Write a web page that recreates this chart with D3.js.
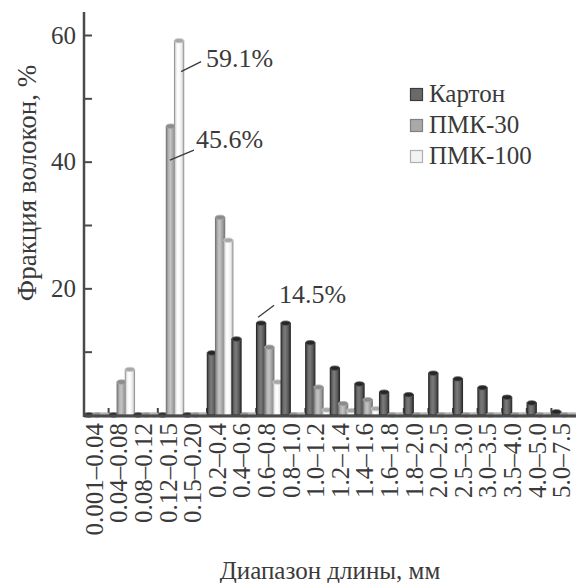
<!DOCTYPE html>
<html lang="ru">
<head>
<meta charset="UTF-8">
<title>Фракция волокон</title>
<script src="https://d3js.org/d3.v7.min.js"></script>
<style>
  body { margin: 0; background: #fff; }
  svg text { font-family: "Liberation Serif", "Times New Roman", Tinos, "DejaVu Serif", serif; fill: #3a3a3a; }
</style>
</head>
<body>
<svg id="chart"></svg>
<script>
// categories (length ranges, mm)
const categories = ['0.001–0.04', '0.04–0.08', '0.08–0.12', '0.12–0.15', '0.15–0.20',
    '0.2–0.4', '0.4–0.6', '0.6–0.8', '0.8–1.0', '1.0–1.2', '1.2–1.4', '1.4–1.6',
    '1.6–1.8', '1.8–2.0', '2.0–2.5', '2.5–3.0', '3.0–3.5', '3.5–4.0', '4.0–5.0', '5.0–7.5'];

const seriesNames = ['Картон', 'ПМК-30', 'ПМК-100'];

const karton = [0, 0, 0, 0, 0, 9.8, 12.0, 14.5, 14.5, 11.4, 7.4, 4.9, 3.6, 3.2, 6.6, 5.7, 4.3, 2.8, 1.9, 0.5];
const pmk30  = [0, 5.2, 0, 45.6, 0, 31.2, 0, 10.7, 0, 4.4, 1.8, 2.4, 0, 0, 0, 0, 0, 0, 0, 0];
const pmk100 = [0, 7.2, 0, 59.1, 0, 27.6, 0, 5.2, 0, 0.8, 0.7, 1.0, 0, 0, 0, 0, 0, 0, 0, 0];

const yTicks = [0, 10, 20, 30, 40, 50, 60];
const yTickLabels = [20, 40, 60];

// callouts: series index, category index, label
const callouts = [
    {s: 2, c: 3, label: '59.1%'},
    {s: 1, c: 3, label: '45.6%'},
    {s: 0, c: 7, label: '14.5%'}
];

const width = 576, height = 583;
const serif = '"Liberation Serif", "Times New Roman", Tinos, "DejaVu Serif", serif';
const svg = d3.select('#chart').attr('width', width).attr('height', height);

const x = d3.scaleBand().domain(categories).range([84, 576]).padding(0);
const y = d3.scaleLinear().domain([0, 60]).range([415, 35]);

const values = [karton, pmk30, pmk100];

// gradients for pseudo-3D cylinders
const defs = svg.append('defs');
const styles = [
    {stops: ['#3a3a3a', '#6c6c6c', '#7a7a7a', '#5c5c5c', '#303030'], stroke: '#2b2b2b', top: '#262626', topRing: '#555', legend: '#6a6a6a', legendStroke: '#3c3c3c'},
    {stops: ['#808080', '#b4b4b4', '#c4c4c4', '#a2a2a2', '#7c7c7c'], stroke: '#777', top: '#8c8c8c', topRing: '#a8a8a8', legend: '#a9a9a9', legendStroke: '#808080'},
    {stops: ['#c4c4c4', '#f6f6f6', '#ffffff', '#ededed', '#b8b8b8'], stroke: '#9a9a9a', top: '#a8a8a8', topRing: '#d0d0d0', legend: '#f2f2f2', legendStroke: '#b0b0b0'}
];
styles.forEach((st, i) => {
    const g = defs.append('linearGradient').attr('id', 'grad' + i)
        .attr('x1', '0%').attr('x2', '100%').attr('y1', '0%').attr('y2', '0%');
    [0, 0.25, 0.45, 0.75, 1].forEach((o, k) => {
        g.append('stop').attr('offset', o).attr('stop-color', st.stops[k]);
    });
});

// floor / baseline
svg.append('rect')
    .attr('x', x.range()[0]).attr('y', y(0) - 2.5)
    .attr('width', x.range()[1] - x.range()[0]).attr('height', 2.5)
    .attr('fill', '#9a9a9a');

// category separators
svg.append('g').selectAll('line')
    .data(categories.slice(1))
    .join('line')
    .attr('x1', d => x(d)).attr('x2', d => x(d))
    .attr('y1', y(0)).attr('y2', y(0) - 7)
    .attr('stroke', '#444').attr('stroke-width', 2);

// bars
const bw = x.bandwidth() / 3;
const barW = bw + 1;
const bars = [];
categories.forEach((c, ci) => {
    values.forEach((arr, si) => bars.push({c, ci, si, v: arr[ci]}));
});

const barG = svg.append('g')
    .selectAll('g')
    .data(bars)
    .join('g');

barG.append('rect')
    .attr('x', d => x(d.c) + d.si * bw + 0.3)
    .attr('y', d => y(d.v))
    .attr('width', barW)
    .attr('height', d => y(0) - y(d.v))
    .attr('fill', d => `url(#grad${d.si})`)
    .attr('stroke', d => styles[d.si].stroke)
    .attr('stroke-width', 1.1);

barG.append('ellipse')
    .attr('cx', d => x(d.c) + d.si * bw + 0.3 + barW / 2)
    .attr('cy', d => y(d.v))
    .attr('rx', barW / 2)
    .attr('ry', 2.2)
    .attr('fill', d => styles[d.si].top)
    .attr('stroke', d => styles[d.si].topRing)
    .attr('stroke-width', 0.8);

// dark axis line along bottom
svg.append('line')
    .attr('x1', x.range()[0]).attr('x2', x.range()[1])
    .attr('y1', y(0) + 1).attr('y2', y(0) + 1)
    .attr('stroke', '#4a4a4a').attr('stroke-width', 3);

// y axis
const yAxis = d3.axisLeft(y)
    .tickValues(yTicks)
    .tickSizeInner(-8)
    .tickSizeOuter(0)
    .tickPadding(8)
    .tickFormat(d => yTickLabels.includes(d) ? d : '');

const yg = svg.append('g')
    .attr('transform', `translate(${x.range()[0]},0)`)
    .call(yAxis)
    .attr('font-family', serif)
    .attr('font-size', 25);
yg.select('.domain').remove();
yg.selectAll('.tick line').attr('stroke', '#4a4a4a').attr('stroke-width', 2);
yg.selectAll('.tick text').attr('fill', '#3a3a3a');
svg.append('line')
    .attr('x1', x.range()[0]).attr('x2', x.range()[0])
    .attr('y1', 12).attr('y2', y(0) + 2)
    .attr('stroke', '#4a4a4a').attr('stroke-width', 2.5);

// x tick labels (rotated)
svg.append('g').selectAll('text')
    .data(categories)
    .join('text')
    .attr('transform', d => `translate(${x(d) + x.bandwidth() / 2 + 6.5},423) rotate(-90)`)
    .attr('text-anchor', 'end')
    .style('font-size', '25px')
    .text(d => d);

// axis titles
svg.append('text')
    .attr('transform', `translate(36,183) rotate(-90)`)
    .attr('text-anchor', 'middle')
    .style('font-size', '27px')
    .text('Фракция волокон, %');

svg.append('text')
    .attr('x', (x.range()[0] + x.range()[1]) / 2)
    .attr('y', 579)
    .attr('text-anchor', 'middle')
    .style('font-size', '25px')
    .text('Диапазон длины, мм');

// legend
const legend = svg.append('g').attr('transform', 'translate(410,88)');
const lg = legend.selectAll('g')
    .data(seriesNames)
    .join('g')
    .attr('transform', (d, i) => `translate(0,${i * 31})`);
lg.append('rect')
    .attr('x', 0.5).attr('y', 0.5)
    .attr('width', 12).attr('height', 12)
    .attr('fill', (d, i) => styles[i].legend)
    .attr('stroke', (d, i) => styles[i].legendStroke)
    .attr('stroke-width', 1.2);
lg.append('text')
    .attr('x', 19).attr('y', 14)
    .style('font-size', '25px')
    .text(d => d);

// callouts
const calloutOffsets = [
    {x1: 2, y1: 31, x2: 22, y2: 21, tx: 27, ty: 26},
    {x1: -1, y1: 34, x2: 23, y2: 24, tx: 25, ty: 22},
    {x1: -3, y1: -6, x2: 13, y2: -18, tx: 18, ty: -20}
];
callouts.forEach((c, i) => {
    const o = calloutOffsets[i];
    const cx = x(categories[c.c]) + c.s * bw + 0.3 + barW / 2;
    const cy = y(values[c.s][c.c]);
    svg.append('line')
        .attr('x1', cx + o.x1).attr('y1', cy + o.y1)
        .attr('x2', cx + o.x2).attr('y2', cy + o.y2)
        .attr('stroke', '#3a3a3a').attr('stroke-width', 1.3);
    svg.append('text')
        .attr('x', cx + o.tx).attr('y', cy + o.ty)
        .style('font-size', '26px')
        .text(c.label);
});
</script>
</body>
</html>
